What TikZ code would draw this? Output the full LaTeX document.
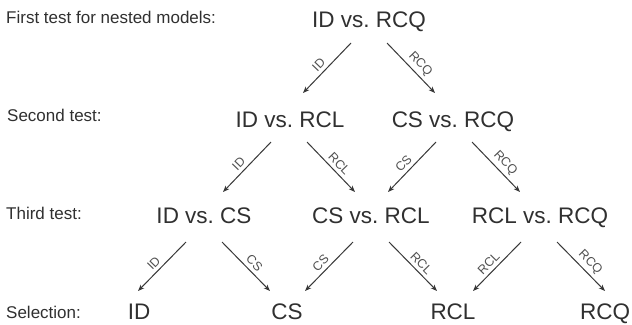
\documentclass[tikz,border=0pt]{standalone}
\usepackage{fontspec}
\setmainfont{Liberation Sans}
\usetikzlibrary{arrows.meta}
\definecolor{txtc}{HTML}{303030}
\definecolor{labc}{HTML}{505050}
\definecolor{arrc}{HTML}{383838}
\begin{document}
\frenchspacing
\begin{tikzpicture}[x=1bp,y=-1bp,
  model/.style={anchor=base, inner sep=0pt, text=txtc, font=\fontsize{22.5bp}{26bp}\selectfont},
  rowlab/.style={anchor=base west, inner sep=0pt, text=txtc, font=\fontsize{17bp}{20bp}\selectfont},
  arr/.style={draw=arrc, line width=1bp, -{Stealth[length=6.5bp,width=5bp]}},
  lab/.style={sloped, above, pos=0.55, inner sep=3.5bp, text=labc, font=\fontsize{12.5bp}{14bp}\selectfont}]
\useasboundingbox (0,0) rectangle (632,324);
\fill[white] (0,0) rectangle (632,324);
% row labels
\node[rowlab] (r1) at (6,23) {First test for nested models:};
\node[rowlab] (r2) at (7,121.5) {Second test:};
\node[rowlab] (r3) at (6,219) {Third test:};
\node[rowlab] (r4) at (6,318.5) {Selection:};
% models
\node[model] (n1) at (369,27) {ID vs. RCQ};
\node[model] (n21) at (290,127) {ID vs. RCL};
\node[model] (n22) at (453,127) {CS vs. RCQ};
\node[model] (n31) at (204,223) {ID vs. CS};
\node[model] (n32) at (371,223) {CS vs. RCL};
\node[model] (n33) at (540,223) {RCL vs. RCQ};
\node[model] (s1) at (139,319.5) {ID};
\node[model] (s2) at (287,319.5) {CS};
\node[model] (s3) at (453,319.5) {RCL};
\node[model] (s4) at (605,319.5) {RCQ};
% arrows
\draw[arr] ([shift={(-18,16)}]n1.base) -- ([shift={(13,-34)}]n21.base) node[lab]{ID};
\draw[arr] ([shift={(18,16)}]n1.base) -- ([shift={(-18,-34)}]n22.base) node[lab]{RCQ};
\draw[arr] ([shift={(-19,15)}]n21.base) -- ([shift={(19,-31)}]n31.base) node[lab]{ID};
\draw[arr] ([shift={(17,15)}]n21.base) -- ([shift={(-16,-31)}]n32.base) node[lab]{RCL};
\draw[arr] ([shift={(-17,15)}]n22.base) -- ([shift={(17,-31)}]n32.base) node[lab]{CS};
\draw[arr] ([shift={(19,15)}]n22.base) -- ([shift={(-20,-31)}]n33.base) node[lab]{RCQ};
\draw[arr] ([shift={(-18,19)}]n31.base) -- ([shift={(-1,-28.5)}]s1.base) node[lab]{ID};
\draw[arr] ([shift={(18,19)}]n31.base) -- ([shift={(-17,-28.5)}]s2.base) node[lab]{CS};
\draw[arr] ([shift={(-18,19)}]n32.base) -- ([shift={(18,-28.5)}]s2.base) node[lab]{CS};
\draw[arr] ([shift={(18,19)}]n32.base) -- ([shift={(-16,-28.5)}]s3.base) node[lab]{RCL};
\draw[arr] ([shift={(-19,19)}]n33.base) -- ([shift={(20,-28.5)}]s3.base) node[lab]{RCL};
\draw[arr] ([shift={(17,19)}]n33.base) -- ([shift={(0,-28.5)}]s4.base) node[lab]{RCQ};
\end{tikzpicture}
\end{document}
